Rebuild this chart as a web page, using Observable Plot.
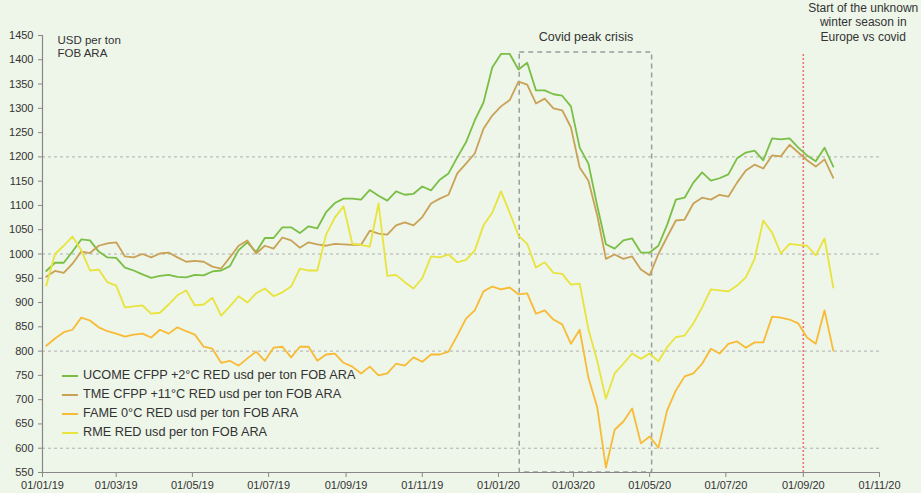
<!DOCTYPE html>
<html><head><meta charset="utf-8">
<script src="https://cdn.jsdelivr.net/npm/d3@7"></script>
<script src="https://cdn.jsdelivr.net/npm/@observablehq/plot@0.6"></script>
<style>
html,body{margin:0;padding:0;background:#EEF5E9;}
#chart{position:relative;width:921px;height:493px;overflow:hidden;font-family:"Liberation Sans",Arial,sans-serif;}
#chart svg{position:absolute;left:0;top:0;}
.legend{position:absolute;left:62px;top:366px;font-size:12.7px;color:#333;}
.legend div{height:19px;line-height:19px;display:flex;align-items:center;white-space:nowrap;}
.legend .sw{display:inline-block;width:16px;height:2px;margin-right:5px;}
</style></head><body><div id="chart"></div>
<script>
const startDate = "2019-01-04";
const seriesNames = [
  "UCOME CFPP +2°C RED usd per ton FOB ARA",
  "TME CFPP +11°C RED usd per ton FOB ARA",
  "FAME 0°C RED usd per ton FOB ARA",
  "RME RED usd per ton FOB ARA"
];
const seriesColors = ["#79BF45", "#C9A257", "#F8BB35", "#E8E43C"];

const ucome = [965,982,982,1005,1030,1028,1005,993,992,972,
  966,958,951,955,957,953,952,957,956,964,
  966,975,1008,1024,1004,1033,1033,1055,1055,1043,
  1057,1053,1086,1105,1114,1114,1112,1132,1120,1110,
  1129,1122,1124,1139,1131,1153,1166,1199,1230,1275,
  1312,1384,1412,1412,1380,1394,1337,1337,1329,1326,
  1304,1219,1186,1100,1020,1011,1028,1032,1003,1003,
  1017,1060,1112,1116,1147,1168,1151,1156,1164,1197,
  1209,1213,1193,1238,1236,1238,1219,1203,1191,1219,1180];
const tme = [953,965,961,980,1005,1002,1017,1022,1024,995,
  993,1000,993,1001,1003,993,984,986,984,974,
  970,993,1017,1028,1001,1017,1011,1034,1028,1013,
  1024,1020,1017,1021,1020,1019,1019,1048,1042,1040,
  1059,1065,1059,1076,1104,1114,1122,1166,1186,1207,
  1258,1285,1304,1317,1355,1349,1310,1320,1300,1296,
  1261,1178,1151,1080,990,999,990,995,968,956,
  1000,1035,1069,1071,1104,1116,1112,1122,1118,1147,
  1172,1184,1176,1203,1201,1225,1209,1193,1180,1195,1157];
const fame = [811,826,839,844,869,863,849,841,836,830,
  834,836,828,844,836,849,841,834,809,805,
  776,780,770,785,799,780,807,809,787,809,
  809,780,793,795,776,768,754,768,750,754,
  774,770,787,778,793,793,799,832,867,884,
  923,933,927,931,917,919,877,884,865,855,
  815,844,745,685,560,638,655,682,610,624,
  601,678,719,748,754,774,805,795,815,820,
  807,818,818,871,869,865,857,828,815,884,801];
const rme = [935,1000,1017,1036,1008,966,968,942,935,890,
  892,894,877,879,896,915,925,894,896,910,
  873,892,913,900,919,929,913,921,933,970,
  966,966,1040,1075,1098,1021,1019,1015,1104,955,
  957,942,929,950,995,993,999,983,988,1007,
  1059,1085,1129,1085,1038,1021,972,983,961,959,
  937,939,845,780,702,754,774,795,784,795,
  779,808,829,832,857,890,927,925,923,935,
  952,990,1069,1044,1001,1021,1019,1017,997,1032,931];

const yTicks = d3.range(550, 1451, 50);
const gridValues = [600, 800, 1000, 1200];
const xTickLabels = ["2019-01-01","2019-03-01","2019-05-01","2019-07-01","2019-09-01","2019-11-01",
  "2020-01-01","2020-03-01","2020-05-01","2020-07-01","2020-09-01","2020-11-01"];
const xDomain = ["2019-01-01", "2020-11-01"];
const yDomain = [550, 1450];

const covidStart = "2020-01-18", covidEnd = "2020-05-03", covidTop = 1415;
const winterStart = "2020-09-01";
const winterLabelDate = "2020-10-19";
const covidLabel = "Covid peak crisis";
const winterLabel = "Start of the unknown\nwinter season in\nEurope vs covid";
const unitLabel = "USD per ton\nFOB ARA";

// ---- build table ----
const D = s => new Date(s + "T00:00:00Z");
const start = D(startDate);
const allSeries = [ucome, tme, fame, rme];
const table = [];
allSeries.forEach((vals, k) => vals.forEach((v, i) => table.push({
  date: d3.utcDay.offset(start, 7 * i), value: v, series: seriesNames[k]
})));

const plot = Plot.plot({
  width: 921, height: 493,
  marginLeft: 42, marginRight: 42, marginTop: 35, marginBottom: 21,
  style: {background: "transparent", fontFamily: "'Liberation Sans', Arial, sans-serif", fontSize: "11px", color: "#333"},
  x: {type: "utc", domain: xDomain.map(D)},
  y: {domain: yDomain},
  color: {domain: seriesNames, range: seriesColors},
  marks: [
    Plot.ruleY(gridValues, {stroke: "#b0b0b0", strokeDasharray: "3,3", strokeWidth: 1}),
    Plot.rect([{a: D(covidStart), b: D(covidEnd)}], {
      x1: d => d.a, x2: d => d.b, y1: () => yDomain[0], y2: () => covidTop,
      fill: "none", stroke: "#9c9c9c", strokeWidth: 1.5, strokeDasharray: "5,4"}),
    Plot.ruleX([D(winterStart)], {y1: () => yDomain[0], y2: () => covidTop, stroke: "#F07272", strokeWidth: 1.6, strokeDasharray: "2,2"}),
    Plot.line(table, {x: "date", y: "value", z: "series", stroke: "series", strokeWidth: 1.8}),
    Plot.ruleX([D(xDomain[0])], {stroke: "#888", strokeWidth: 1.2}),
    Plot.ruleY([yDomain[0]], {stroke: "#888", strokeWidth: 1.2}),
    Plot.axisY(yTicks, {tickSize: 4, tickPadding: 5, label: null, stroke: "#888", fill: "#333", tickFormat: d3.format("d")}),
    Plot.axisX(xTickLabels.map(D), {tickSize: 5, tickPadding: 4, label: null, stroke: "#888", fill: "#333", tickFormat: d3.utcFormat("%d/%m/%y")}),
    Plot.text([unitLabel], {text: d => d, frameAnchor: "top-left", dx: 15, dy: -1, textAnchor: "start", lineAnchor: "top", fontSize: 11.5, lineHeight: 1.15, fill: "#333"}),
    Plot.text([covidLabel], {text: d => d, x: () => new Date((D(covidStart).getTime() + D(covidEnd).getTime()) / 2), frameAnchor: "top", dy: 1, lineAnchor: "middle", fontSize: 12.5, fill: "#333"}),
    Plot.text([winterLabel], {text: d => d, x: () => D(winterLabelDate), frameAnchor: "top", dy: -14, lineAnchor: "middle", fontSize: 12, lineHeight: 1.2, fill: "#333"})
  ]
});

const chart = document.getElementById("chart");
chart.appendChild(plot);
const legend = document.createElement("div");
legend.className = "legend";
seriesNames.forEach((n, k) => {
  const row = document.createElement("div");
  const sw = document.createElement("span");
  sw.className = "sw"; sw.style.background = seriesColors[k];
  row.appendChild(sw);
  row.appendChild(document.createTextNode(n));
  legend.appendChild(row);
});
chart.appendChild(legend);
</script></body></html>
